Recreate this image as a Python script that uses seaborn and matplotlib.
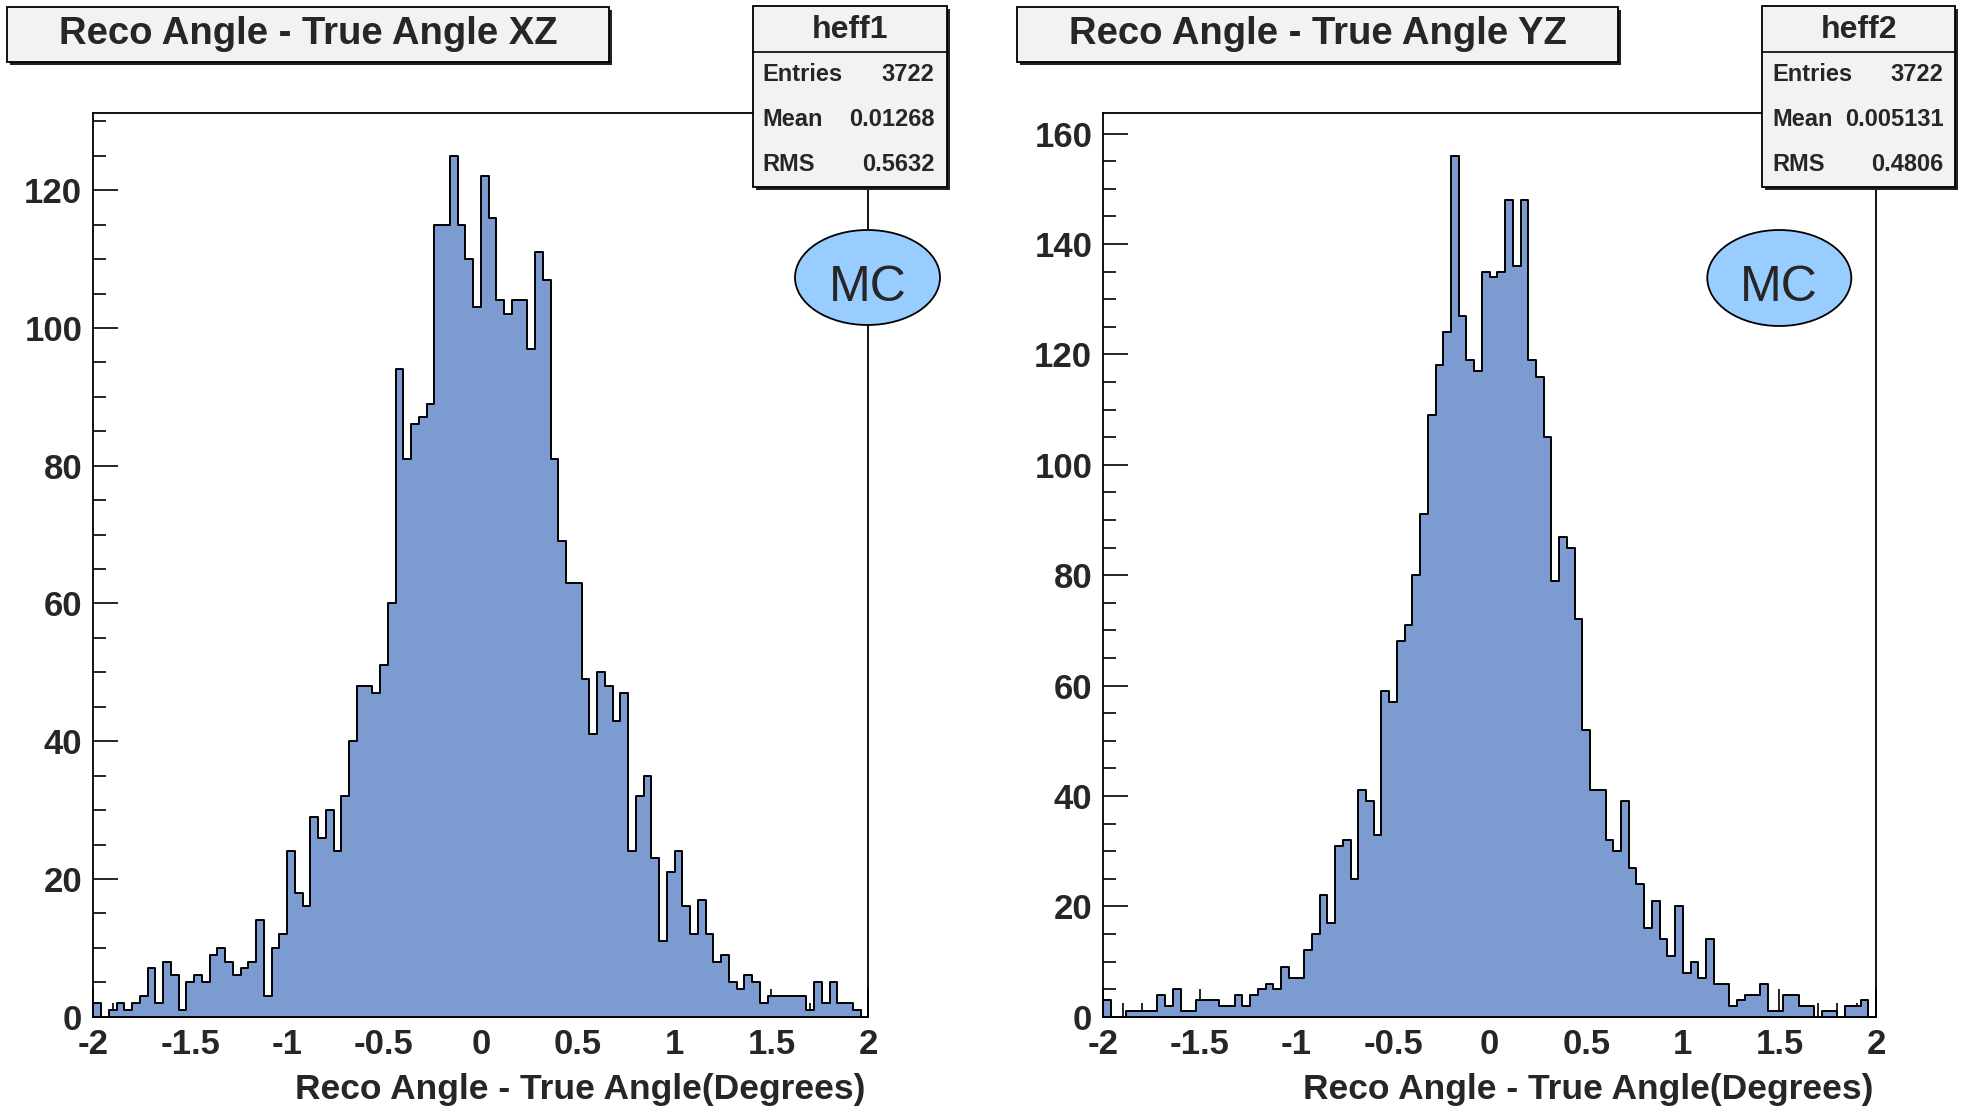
import numpy as np
import pandas as pd
import matplotlib
matplotlib.use("Agg")
import matplotlib.pyplot as plt
from matplotlib.patches import Rectangle, Ellipse
from matplotlib.lines import Line2D
from matplotlib.ticker import MultipleLocator
import seaborn as sns

# 100 bins of width 0.04 degrees between -2 and 2
n_bins = 100
x_range = (-2.0, 2.0)
bin_edges = np.linspace(x_range[0], x_range[1], n_bins + 1)

# Bin contents, XZ projection (heff1)
counts_xz = [
    2, 0, 1, 2, 1, 2, 3, 7, 2, 8,
    6, 1, 5, 6, 5, 9, 10, 8, 6, 7,
    8, 14, 3, 10, 12, 24, 18, 16, 29, 26,
    30, 24, 32, 40, 48, 48, 47, 51, 60, 94,
    81, 86, 87, 89, 115, 115, 125, 115, 110, 103,
    122, 116, 104, 102, 104, 104, 97, 111, 107, 81,
    69, 63, 63, 49, 41, 50, 48, 43, 47, 24,
    32, 35, 23, 11, 21, 24, 16, 12, 17, 12,
    8, 9, 5, 4, 6, 5, 2, 3, 3, 3,
    3, 3, 1, 5, 2, 5, 2, 2, 1, 0,
]

# Bin contents, YZ projection (heff2)
counts_yz = [
    3, 0, 0, 1, 1, 1, 1, 4, 2, 5,
    1, 1, 3, 3, 3, 2, 2, 4, 2, 4,
    5, 6, 5, 9, 7, 7, 12, 15, 22, 17,
    31, 32, 25, 41, 39, 33, 59, 57, 68, 71,
    80, 91, 109, 118, 124, 156, 127, 119, 117, 135,
    134, 135, 148, 136, 148, 119, 116, 105, 79, 87,
    85, 72, 52, 41, 41, 32, 30, 39, 27, 24,
    16, 21, 14, 11, 20, 8, 10, 7, 14, 6,
    6, 2, 3, 4, 4, 6, 1, 1, 4, 4,
    2, 2, 0, 1, 1, 0, 2, 2, 3, 0,
]

x_ticks = [-2, -1.5, -1, -0.5, 0, 0.5, 1, 1.5, 2]
x_tick_labels = ["-2", "-1.5", "-1", "-0.5", "0", "0.5", "1", "1.5", "2"]
y_ticks_xz = [0, 20, 40, 60, 80, 100, 120]
y_ticks_yz = [0, 20, 40, 60, 80, 100, 120, 140, 160]
y_max = [131.25, 163.8]

titles = ["Reco Angle - True Angle XZ", "Reco Angle - True Angle YZ"]
hist_names = ["heff1", "heff2"]
stat_labels = ["Entries", "Mean", "RMS"]
stat_values = [["3722", "0.01268", "0.5632"], ["3722", "0.005131", "0.4806"]]
x_label = "Reco Angle - True Angle(Degrees)"
badge = "MC"

FILL = "#7c9bd1"
BOX = "#f2f2f2"
BADGE = "#99ccff"

sns.set_style("ticks")
plt.rcParams["font.family"] = ["Liberation Sans", "DejaVu Sans"]

W, H = 1964, 1109
fig = plt.figure(figsize=(W / 100, H / 100), dpi=100)
fig.patch.set_facecolor("white")


def fx(px):
    return px / W


def fy(py):
    return 1 - py / H


def panel_axes(left, top, right, bottom):
    return fig.add_axes([fx(left), fy(bottom), (right - left) / W, (bottom - top) / H])


def framed_box(left, top, right, bottom, shadow=3):
    fig.add_artist(Rectangle((fx(left + shadow), fy(bottom + shadow)), (right - left) / W,
                             (bottom - top) / H, transform=fig.transFigure,
                             facecolor="#222222", edgecolor="none", zorder=5))
    fig.add_artist(Rectangle((fx(left), fy(bottom)), (right - left) / W, (bottom - top) / H,
                             transform=fig.transFigure, facecolor=BOX, edgecolor="black",
                             linewidth=1.3, zorder=6))


centers = (bin_edges[:-1] + bin_edges[1:]) / 2

panels = [
    dict(counts=counts_xz, yticks=y_ticks_xz, ymax=y_max[0], axes=(93.3, 112.7, 868.3, 1016.7),
         title_box=(7, 7, 609, 62), stats_box=(752.7, 6, 946.7, 187.3),
         badge_xy=(867.5, 277.5), badge_wh=(145, 95)),
    dict(counts=counts_yz, yticks=y_ticks_yz, ymax=y_max[1], axes=(1103.3, 112.7, 1876.0, 1016.7),
         title_box=(1017, 7, 1618, 62), stats_box=(1762.4, 6, 1955.3, 187.3),
         badge_xy=(1779.3, 278), badge_wh=(144, 96)),
]

for k, p in enumerate(panels):
    ax = panel_axes(*p["axes"])
    df = pd.DataFrame({"angle": centers, "count": p["counts"]})
    sns.histplot(data=df, x="angle", weights="count", bins=n_bins, binrange=x_range,
                 element="step", fill=True, color=FILL, alpha=1, edgecolor="black",
                 linewidth=1.4, ax=ax)
    ax.set_facecolor("white")
    ax.set_xlim(*x_range)
    ax.set_ylim(0, p["ymax"])
    ax.set_ylabel("")
    for s in ax.spines.values():
        s.set_color("black")
        s.set_linewidth(1.3)
        s.set_visible(True)

    ax.set_xticks(x_ticks, x_tick_labels, fontsize=25, fontweight="bold")
    ax.set_yticks(p["yticks"], [str(v) for v in p["yticks"]], fontsize=25, fontweight="bold")
    ax.xaxis.set_minor_locator(MultipleLocator(0.1))
    ax.yaxis.set_minor_locator(MultipleLocator(5))
    ax.tick_params(axis="both", which="both", direction="in", top=False, right=False,
                   color="black", width=1.2)
    ax.tick_params(axis="x", which="major", length=20, pad=8)
    ax.tick_params(axis="x", which="minor", length=10)
    ax.tick_params(axis="y", which="major", length=18, pad=8)
    ax.tick_params(axis="y", which="minor", length=9)

    ax.set_xlabel(x_label, fontsize=25.5, fontweight="bold", loc="right")
    ax.xaxis.label.set_va("center")
    l, t, r, b = p["axes"]
    ax.xaxis.set_label_coords(1 - 3 / (r - l), -(1089 - b) / (b - t))

    # title box
    tl, tt, tr, tb = p["title_box"]
    framed_box(tl, tt, tr, tb)
    fig.text(fx((tl + tr) / 2), fy((tt + tb) / 2), titles[k], ha="center", va="center",
             fontsize=27.5, fontweight="bold", zorder=7)

    # statistics box
    sl, st, sr, sb = p["stats_box"]
    framed_box(sl, st, sr, sb)
    fig.add_artist(Line2D([fx(sl), fx(sr)], [fy(51.7), fy(51.7)], transform=fig.transFigure,
                          color="black", linewidth=1.2, zorder=7))
    fig.text(fx((sl + sr) / 2), fy(30), hist_names[k], ha="center", va="center",
             fontsize=23, fontweight="bold", zorder=7)
    for row, (lab, val) in enumerate(zip(stat_labels, stat_values[k])):
        yrow = 74.5 + 45 * row
        fig.text(fx(sl + 10), fy(yrow), lab, ha="left", va="center",
                 fontsize=17, fontweight="bold", zorder=7)
        fig.text(fx(sr - 12), fy(yrow), val, ha="right", va="center",
                 fontsize=17, fontweight="bold", zorder=7)

    # MC badge
    cx, cy = p["badge_xy"]
    bw, bh = p["badge_wh"]
    fig.add_artist(Ellipse((fx(cx), fy(cy)), bw / W, bh / H, transform=fig.transFigure,
                           facecolor=BADGE, edgecolor="black", linewidth=1.3, zorder=6))
    fig.text(fx(cx), fy(cy + 10), badge, ha="center", va="center", fontsize=36,
             fontweight="normal", zorder=7)

fig.savefig("out.png", dpi=100, facecolor="white")
